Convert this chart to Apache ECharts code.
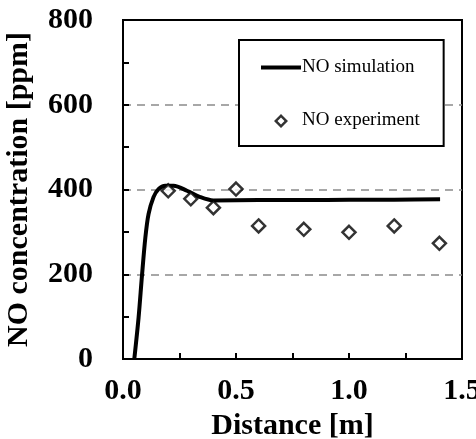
<!DOCTYPE html>
<html>
<head>
<meta charset="utf-8">
<script src="https://cdn.jsdelivr.net/npm/echarts@6/dist/echarts.min.js"></script>
<style>
  html, body { margin: 0; padding: 0; background: #fff; }
  #chart { width: 476px; height: 439px; }
</style>
</head>
<body>
<div id="chart"></div>
<script>
// simulation curve [distance m, ppm]
var simDistance = [0.050, 0.069, 0.084, 0.099, 0.113, 0.135, 0.157, 0.187, 0.224, 0.283, 0.342, 0.40, 0.60, 0.80, 1.00, 1.20, 1.403];
var simNO = [0, 98, 197, 287, 342, 382, 401, 409, 409, 397, 382, 374, 375, 375, 376, 376, 377];

// measured points
var expDistance = [0.2, 0.3, 0.4, 0.5, 0.6, 0.8, 1.0, 1.2, 1.4];
var expNO = [397, 378, 357, 401, 314, 306, 299, 314, 273];

var xTicks = [0, 0.5, 1.0, 1.5];
var yTicks = [0, 200, 400, 600, 800];

var serif = '"Liberation Serif", "Times New Roman", serif';

var chart = echarts.init(document.getElementById('chart'), null, { renderer: 'canvas' });

var option = {
  animation: false,
  backgroundColor: '#fff',
  grid: {
    left: 123, right: 14, top: 20, bottom: 80,
    outerBoundsMode: 'none',
    show: true, borderColor: '#000', borderWidth: 2
  },
  legend: {
    orient: 'vertical',
    left: 239, top: 40,
    padding: [18, 24, 16, 22],
    itemGap: 34,
    itemWidth: 40, itemHeight: 15,
    symbolKeepAspect: true,
    borderColor: '#000', borderWidth: 2,
    backgroundColor: '#fff',
    textStyle: { fontFamily: serif, fontSize: 19, color: '#000', padding: [0, 0, 0, -4] },
    data: [
      { name: 'NO simulation', icon: 'path://M0,0 L40,0 L40,4 L0,4 Z', itemStyle: { color: '#000' } },
      { name: 'NO experiment', icon: 'path://M0,0 L0.1,0 M20,1 L27,8 L20,15 L13,8 Z M20,4.5 L16.5,8 L20,11.5 L23.5,8 Z M40,15 L39.9,15',
        itemStyle: { color: '#000', borderWidth: 0 } }
    ]
  },
  xAxis: {
    type: 'value',
    min: xTicks[0], max: xTicks[xTicks.length - 1], interval: 0.5,
    name: 'Distance [m]',
    nameLocation: 'middle',
    nameGap: 49,
    nameTextStyle: { fontFamily: serif, fontSize: 30, fontWeight: 'bold', color: '#000' },
    axisLine: { show: true, lineStyle: { color: '#000', width: 2 } },
    axisTick: { show: true, inside: true, length: 6, lineStyle: { color: '#000', width: 2 } },
    minorTick: { show: true, splitNumber: 2, length: 6, lineStyle: { color: '#000', width: 2 } },
    axisLabel: {
      fontFamily: serif, fontSize: 30, fontWeight: 'bold', color: '#000', margin: 17,
      formatter: function (v) { return v.toFixed(1); }
    },
    splitLine: { show: false }
  },
  yAxis: {
    type: 'value',
    min: yTicks[0], max: yTicks[yTicks.length - 1], interval: 200,
    name: 'NO concentration [ppm]',
    nameLocation: 'middle',
    nameGap: 89,
    nameTextStyle: { fontFamily: serif, fontSize: 30, fontWeight: 'bold', color: '#000' },
    axisLine: { show: true, lineStyle: { color: '#000', width: 2 } },
    axisTick: { show: true, inside: true, length: 6, lineStyle: { color: '#000', width: 2 } },
    minorTick: { show: true, splitNumber: 2, length: 6, lineStyle: { color: '#000', width: 2 } },
    axisLabel: { fontFamily: serif, fontSize: 30, fontWeight: 'bold', color: '#000', margin: 30 },
    splitLine: {
      show: true,
      showMinLine: false, showMaxLine: false,
      lineStyle: { color: '#8a8a8a', width: 1.5, type: [8, 6] }
    }
  },
  series: [
    {
      name: 'NO simulation',
      type: 'line',
      smooth: 0.3,
      showSymbol: false,
      z: 3,
      lineStyle: { color: '#000', width: 4 },
      itemStyle: { color: '#000' },
      data: simDistance.map(function (d, i) { return [d, simNO[i]]; })
    },
    {
      name: 'NO experiment',
      type: 'scatter',
      symbol: 'diamond',
      symbolSize: 13,
      symbolKeepAspect: true,
      z: 4,
      itemStyle: { color: '#fff', borderColor: '#000', borderWidth: 2.5 },
      data: expDistance.map(function (d, i) { return [d, expNO[i]]; })
    }
  ]
};

chart.setOption(option);
</script>
</body>
</html>
